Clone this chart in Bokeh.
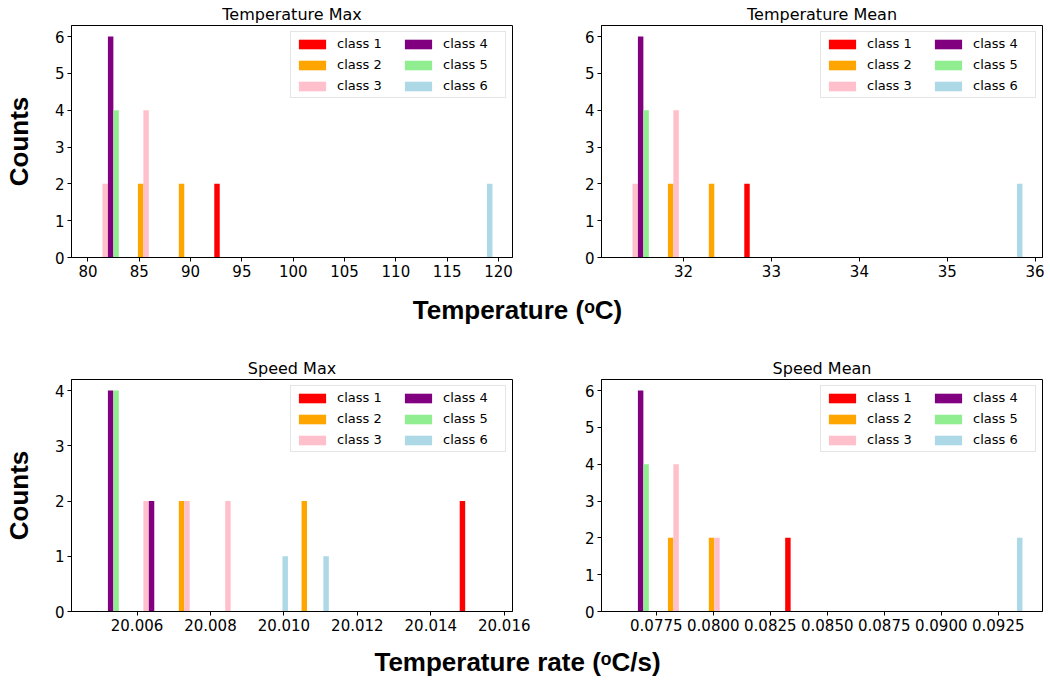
from bokeh.plotting import figure
from bokeh.layouts import column, row
from bokeh.models import Range1d, FixedTicker, NumeralTickFormatter, Label
from bokeh.embed import file_html
from bokeh.resources import INLINE

# ---------------- data ----------------
classes = ["class 1", "class 2", "class 3", "class 4", "class 5", "class 6"]
colors = ["#FF0000", "#FFA500", "#FFC0CB", "#800080", "#90EE90", "#ADD8E6"]

# histogram bin ranges (10 equal bins) and counts per class per bin
temp_max_range = (79.95, 119.81)
temp_max_counts = [
    [0, 0, 0, 2, 0, 0, 0, 0, 0, 0],
    [0, 2, 2, 0, 0, 0, 0, 0, 0, 0],
    [2, 4, 0, 0, 0, 0, 0, 0, 0, 0],
    [6, 0, 0, 0, 0, 0, 0, 0, 0, 0],
    [4, 0, 0, 0, 0, 0, 0, 0, 0, 0],
    [0, 0, 0, 0, 0, 0, 0, 0, 0, 2],
]
temp_max_ticks = [80, 85, 90, 95, 100, 105, 110, 115, 120]

temp_mean_range = (31.25, 35.90)
temp_mean_counts = [
    [0, 0, 0, 2, 0, 0, 0, 0, 0, 0],
    [0, 2, 2, 0, 0, 0, 0, 0, 0, 0],
    [2, 4, 0, 0, 0, 0, 0, 0, 0, 0],
    [6, 0, 0, 0, 0, 0, 0, 0, 0, 0],
    [4, 0, 0, 0, 0, 0, 0, 0, 0, 0],
    [0, 0, 0, 0, 0, 0, 0, 0, 0, 2],
]
temp_mean_ticks = [32, 33, 34, 35, 36]

speed_max_range = (20.00465, 20.01579)
speed_max_counts = [
    [0, 0, 0, 0, 0, 0, 0, 0, 0, 2],
    [0, 0, 2, 0, 0, 2, 0, 0, 0, 0],
    [0, 2, 2, 2, 0, 0, 0, 0, 0, 0],
    [4, 2, 0, 0, 0, 0, 0, 0, 0, 0],
    [4, 0, 0, 0, 0, 0, 0, 0, 0, 0],
    [0, 0, 0, 0, 1, 1, 0, 0, 0, 0],
]
speed_max_ticks = [20.006, 20.008, 20.010, 20.012, 20.014, 20.016]

speed_mean_range = (0.075796, 0.093742)
speed_mean_counts = [
    [0, 0, 0, 0, 2, 0, 0, 0, 0, 0],
    [0, 2, 2, 0, 0, 0, 0, 0, 0, 0],
    [0, 4, 2, 0, 0, 0, 0, 0, 0, 0],
    [6, 0, 0, 0, 0, 0, 0, 0, 0, 0],
    [4, 0, 0, 0, 0, 0, 0, 0, 0, 0],
    [0, 0, 0, 0, 0, 0, 0, 0, 0, 2],
]
speed_mean_ticks = [0.0775, 0.0800, 0.0825, 0.0850, 0.0875, 0.0900, 0.0925]

FRAME_W = 441
FRAME_H = 232


def hist_panel(title, rng, counts, xticks, xfmt, ylabel, bl, br, bt, bb):
    lo, hi = rng
    nb = len(counts[0])
    bw = (hi - lo) / nb
    edges = [lo + k * bw for k in range(nb)]
    ext_lo, ext_hi = lo + 0.1 * bw, hi - 0.1 * bw
    m = 0.05 * (ext_hi - ext_lo)
    ymax = max(max(c) for c in counts)
    p = figure(frame_width=FRAME_W, frame_height=FRAME_H,
               x_range=Range1d(ext_lo - m, ext_hi + m),
               y_range=Range1d(0, ymax * 1.05),
               output_backend="svg", toolbar_location=None, title=title,
               min_border_left=bl, min_border_right=br,
               min_border_top=bt, min_border_bottom=bb)
    nx = len(counts)
    w = 0.8 * bw / nx
    for i, (cls, col, cnt) in enumerate(zip(classes, colors, counts)):
        left = [e + 0.1 * bw + i * w for e in edges]
        right = [l + w for l in left]
        p.quad(left=left, right=right, bottom=0, top=cnt,
               fill_color=col, line_color=None, legend_label=cls)
    p.xgrid.visible = False
    p.ygrid.visible = False
    p.outline_line_color = "black"
    p.outline_line_width = 1
    p.outline_line_alpha = 1
    p.title.align = "center"
    p.title.text_font = "DejaVu Sans"
    p.title.text_font_size = "16px"
    p.title.text_font_style = "normal"
    p.title.text_color = "black"
    p.title.standoff = 4
    p.xaxis.ticker = FixedTicker(ticks=xticks)
    p.xaxis.formatter = NumeralTickFormatter(format=xfmt)
    p.yaxis.ticker = FixedTicker(ticks=list(range(0, ymax + 1)))
    for ax in (p.xaxis[0], p.yaxis[0]):
        ax.axis_line_color = "black"
        ax.major_tick_line_color = "black"
        ax.major_tick_in = 0
        ax.major_tick_out = 4
        ax.minor_tick_line_color = None
        ax.major_label_text_font = "DejaVu Sans"
        ax.major_label_text_font_size = "15px"
        ax.major_label_text_color = "black"
        ax.major_label_standoff = 3
    if ylabel:
        p.yaxis.axis_label = ylabel
        p.yaxis.axis_label_text_font = "Liberation Sans"
        p.yaxis.axis_label_text_font_style = "bold"
        p.yaxis.axis_label_text_font_size = "26px"
        p.yaxis.axis_label_text_color = "black"
        p.yaxis.axis_label_standoff = 18
    lg = p.legend[0]
    lg.location = "top_right"
    lg.orientation = "vertical"
    lg.nrows = 3
    lg.margin = 6
    lg.padding = 4
    lg.spacing = 6
    lg.glyph_width = 34
    lg.glyph_height = 12
    lg.label_standoff = 8
    lg.label_width = 58
    lg.label_height = 15
    lg.label_text_font = "DejaVu Sans"
    lg.label_text_font_size = "13px"
    lg.label_text_color = "black"
    lg.border_line_color = "#cccccc"
    lg.border_line_width = 1
    lg.background_fill_alpha = 0.8
    return p


def label_fig(text, height, ypos):
    f = figure(width=1034, height=height, x_range=Range1d(0, 1), y_range=Range1d(0, 1),
               output_backend="svg", toolbar_location=None,
               x_axis_type=None, y_axis_type=None, min_border=0)
    f.outline_line_color = None
    f.xgrid.visible = False
    f.ygrid.visible = False
    f.add_layout(Label(x=0.5, y=ypos, text=text, text_align="center",
                       text_baseline="middle", text_font="Liberation Sans",
                       text_font_style="bold", text_font_size="26px",
                       text_color="black"))
    return f


p1 = hist_panel("Temperature Max", temp_max_range, temp_max_counts, temp_max_ticks,
                "0", "Counts", 61, 50, 22, 25)
p2 = hist_panel("Temperature Mean", temp_mean_range, temp_mean_counts, temp_mean_ticks,
                "0", None, 39, 2, 22, 25)
p3 = hist_panel("Speed Max", speed_max_range, speed_max_counts, speed_max_ticks,
                "0.000", "Counts", 61, 50, 42, 25)
p4 = hist_panel("Speed Mean", speed_mean_range, speed_mean_counts, speed_mean_ticks,
                "0.0000", None, 39, 2, 42, 25)

lab1 = label_fig("Temperature (\u1d52C)", 55, 0.509)
lab2 = label_fig("Temperature rate (\u1d52C/s)", 43, 0.40)

layout = column(row(p1, p2, spacing=0), lab1, row(p3, p4, spacing=0), lab2, spacing=0)

open("out.html", "w").write(file_html(layout, INLINE))
